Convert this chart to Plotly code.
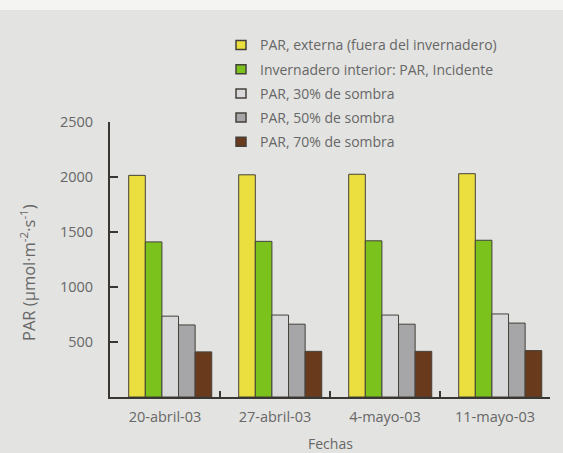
import plotly.graph_objects as go

# Sampling dates (x categories)
fechas = ["20-abril-03", "27-abril-03", "4-mayo-03", "11-mayo-03"]

# PAR readings (µmol·m-2·s-1) per condition
par_externa = [2015, 2020, 2025, 2030]
par_incidente = [1410, 1415, 1420, 1425]
par_sombra_30 = [735, 745, 745, 755]
par_sombra_50 = [655, 662, 662, 672]
par_sombra_70 = [410, 415, 415, 422]

series_names = [
    "PAR, externa (fuera del invernadero)",
    "Invernadero interior: PAR, Incidente",
    "PAR, 30% de sombra",
    "PAR, 50% de sombra",
    "PAR, 70% de sombra",
]
series_values = [par_externa, par_incidente, par_sombra_30, par_sombra_50, par_sombra_70]
series_colors = ["#eadf3e", "#7cc21c", "#d9d9db", "#a6a6a8", "#6a3a1c"]

BG = "#e3e3e1"
TEXT = "#676767"
AXIS = "#3a3632"
EDGE = "#45403a"
FONT = "Open Sans"

W, H = 563, 453
ML, MR, MT, MB = 110, 13, 122, 56
PW, PH = W - ML - MR, H - MT - MB


def px_to_paper(x, y):
    return (x - ML) / PW, (H - MB - y) / PH


fig = go.Figure()

# Bars: five per date, laid out left-to-right inside each category slot
bar_w = 0.151
start = -0.33
for i, (name, vals, color) in enumerate(zip(series_names, series_values, series_colors)):
    fig.add_trace(go.Bar(
        x=fechas, y=vals, name=name, showlegend=False,
        width=bar_w, offset=start + i * bar_w,
        marker=dict(color=color, line=dict(color=EDGE, width=1)),
    ))

# Legend block: swatch + label for each series
shapes = [
    dict(type="rect", xref="paper", yref="paper", x0=-0.3, x1=1.1,
         y0=px_to_paper(0, 10)[1], y1=px_to_paper(0, -5)[1],
         fillcolor="#f4f4f3", line=dict(width=0), layer="below"),
]
annotations = []
row0, row_step = 45, 24.2
for i, (name, color) in enumerate(zip(series_names, series_colors)):
    yc = row0 + i * row_step
    x0, y0 = px_to_paper(236, yc + 4.5)
    x1, y1 = px_to_paper(246, yc - 4.5)
    shapes.append(dict(type="rect", xref="paper", yref="paper",
                       x0=x0, x1=x1, y0=y0, y1=y1, fillcolor=color,
                       line=dict(color=EDGE, width=1.5)))
    tx, ty = px_to_paper(258, yc)
    annotations.append(dict(xref="paper", yref="paper", x=tx, y=ty,
                            xanchor="left", yanchor="middle", showarrow=False,
                            text=name, font=dict(family=FONT, size=14, color=TEXT)))

# Y-axis title placed as rotated text
yt_x, yt_y = px_to_paper(28, 273)
annotations.append(dict(xref="paper", yref="paper", x=yt_x, y=yt_y,
                        xanchor="center", yanchor="middle", showarrow=False, textangle=-90,
                        text="PAR (µmol·m<sup>-2</sup>·s<sup>-1</sup>)",
                        font=dict(family=FONT, size=16.5, color=TEXT)))

# X-axis title
fx, fy = px_to_paper(330, 443)
annotations.append(dict(xref="paper", yref="paper", x=fx, y=fy,
                        xanchor="center", yanchor="middle", showarrow=False,
                        text="Fechas", font=dict(family=FONT, size=14, color=TEXT)))

fig.update_layout(
    width=W, height=H,
    margin=dict(l=ML, r=MR, t=MT, b=MB, autoexpand=False),
    paper_bgcolor=BG, plot_bgcolor=BG,
    barmode="overlay",
    font=dict(family=FONT, size=14, color=TEXT),
    showlegend=False,
    xaxis=dict(
        type="category", tickson="boundaries", ticks="inside", ticklen=6,
        tickwidth=2, tickcolor=AXIS, showline=True, linecolor=AXIS, linewidth=2,
        showgrid=False, zeroline=False, ticklabelstandoff=6, automargin=False,
        tickfont=dict(family=FONT, size=14.5, color=TEXT),
    ),
    yaxis=dict(
        range=[0, 2500], tickvals=[500, 1000, 1500, 2000, 2500],
        ticks="inside", ticklen=8, tickwidth=2, tickcolor=AXIS,
        showline=True, linecolor=AXIS, linewidth=2, showgrid=False, zeroline=False,
        ticklabelstandoff=12, automargin=False,
        tickfont=dict(family=FONT, size=14.5, color=TEXT),
    ),
    shapes=shapes,
    annotations=annotations,
)

fig.write_html("out.html")
